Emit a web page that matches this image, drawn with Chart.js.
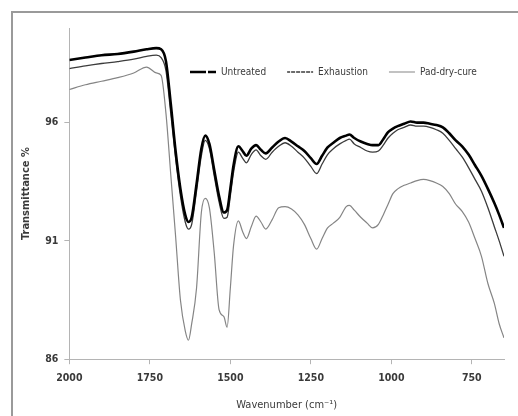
<!DOCTYPE html>
<html>
<head>
<meta charset="utf-8">
<script src="https://cdn.jsdelivr.net/npm/chart.js@4/dist/chart.umd.min.js"></script>
<style>
  html, body { margin: 0; padding: 0; background: #fff; overflow: hidden; }
  #frame {
    position: absolute; left: 11px; top: 11px; width: 600px; height: 500px;
    border: 2px solid #9a9a9a; box-sizing: border-box;
  }
  #wrap { position: absolute; left: 0; top: 0; width: 518px; height: 416px; }
</style>
</head>
<body>
<div id="frame"></div>
<div id="wrap"><canvas id="ftir"></canvas></div>
<script>
// wavenumber (cm-1)
const wavenumbers = [
    2000, 1950, 1900, 1850, 1800, 1760, 1730, 1715, 1700, 1685, 1670, 1655, 1640, 1630,
    1620, 1605, 1590, 1578, 1565, 1550, 1535, 1520, 1510, 1500, 1490, 1475, 1462, 1450,
    1435, 1420, 1405, 1390, 1370, 1350, 1330, 1310, 1290, 1270, 1250, 1232, 1215, 1198,
    1180, 1160, 1140, 1130, 1115, 1095, 1075, 1058, 1040, 1025, 1010, 995, 980, 960,
    940, 920, 900, 880, 860, 840, 820, 800, 780, 760, 740, 720, 700, 680, 665, 650,
];

const untreated = [
    98.65, 98.75, 98.85, 98.9, 99.0, 99.1, 99.15, 99.1, 98.6, 96.8, 94.8, 93.2, 92.1, 91.8,
    92.0, 93.4, 94.9, 95.45, 95.1, 94.0, 92.9, 92.2, 92.3, 93.2, 94.2, 95.0, 94.8, 94.6,
    94.9, 95.05, 94.85, 94.7, 94.95, 95.2, 95.35, 95.2, 95.0, 94.8, 94.5, 94.25, 94.6, 94.95,
    95.15, 95.35, 95.45, 95.5, 95.35, 95.2, 95.1, 95.05, 95.05, 95.3, 95.6, 95.75, 95.85, 95.95,
    96.05, 96.0, 96.0, 95.95, 95.9, 95.8, 95.55, 95.25, 95.0, 94.65, 94.2, 93.75, 93.2, 92.6, 92.1, 91.55,
];

const exhaustion = [
    98.28, 98.4, 98.5, 98.58, 98.68, 98.8, 98.85, 98.75, 98.2, 96.4, 94.5, 92.9, 91.8, 91.5,
    91.7, 93.1, 94.6, 95.25, 94.9, 93.75, 92.65, 91.95, 92.0, 92.9, 93.9, 94.75, 94.5, 94.3,
    94.65, 94.85, 94.6, 94.45, 94.75, 95.0, 95.15, 95.0, 94.75, 94.5, 94.15, 93.85, 94.25, 94.65,
    94.9, 95.1, 95.25, 95.3, 95.1, 94.95, 94.8, 94.75, 94.8, 95.05, 95.35, 95.55, 95.7, 95.8,
    95.9, 95.85, 95.85, 95.8, 95.7, 95.55, 95.25, 94.9, 94.55, 94.1, 93.6, 93.1, 92.4, 91.6, 91.0, 90.35,
];

const padDryCure = [
    97.4, 97.6, 97.75, 97.9, 98.1, 98.35, 98.1, 98.0, 96.4, 93.8, 91.2, 88.5, 87.2, 86.8,
    87.5, 89.0, 92.2, 92.8, 92.4, 90.5, 88.1, 87.8, 87.35, 89.0, 90.8, 91.85, 91.4, 91.1,
    91.6, 92.05, 91.8, 91.5, 91.9, 92.4, 92.45, 92.35, 92.1, 91.7, 91.1, 90.65, 91.1, 91.55,
    91.75, 92.0, 92.45, 92.5, 92.3, 92.0, 91.75, 91.55, 91.7, 92.1, 92.55, 93.0, 93.2, 93.35,
    93.45, 93.55, 93.6, 93.55, 93.45, 93.3, 93.0, 92.55, 92.25, 91.8, 91.1, 90.35, 89.2, 88.36, 87.5, 86.9,
];

const seriesNames = ['Untreated', 'Exhaustion', 'Pad-dry-cure'];
const xTicks = [2000, 1750, 1500, 1250, 1000, 750];
const yTicks = [86, 91, 96];

const FONT = "'Liberation Sans Narrow', 'DejaVu Sans Condensed', sans-serif";
const TEXT = '#3a3a3a';
const AXIS = '#b4b4b4';

// legend sample dashes differ from how the dense Excel traces look in the plot
const legendDash = [[8, 4, 2, 4], [3, 2], []];

function to_points(values) {
    return wavenumbers.map((x, i) => ({ x, y: values[i] }));
}

// Excel puts the legend inside the plot area; move Chart.js's legend there
const legendInside = {
    id: 'legendInside',
    afterLayout(chart) {
        const lg = chart.legend;
        if (!lg) return;
        const pad = lg.options.labels.padding;
        const dx = 190 - (lg.left + pad);
        const dy = 67 - (lg.top + pad);
        lg.left += dx; lg.right += dx;
        lg.top += dy; lg.bottom += dy;
    },
};

new Chart(document.getElementById('ftir'), {
    type: 'line',
    data: {
        datasets: [
            { label: seriesNames[0], data: to_points(untreated), borderColor: '#000', backgroundColor: '#000', borderWidth: 2.6 },
            { label: seriesNames[1], data: to_points(exhaustion), borderColor: '#3c3c3c', backgroundColor: '#3c3c3c', borderWidth: 1.3 },
            { label: seriesNames[2], data: to_points(padDryCure), borderColor: '#858585', backgroundColor: '#858585', borderWidth: 1.2 },
        ],
    },
    options: {
        responsive: true,
        maintainAspectRatio: false,
        animation: false,
        elements: {
            point: { radius: 0 },
            line: { tension: 0, cubicInterpolationMode: 'monotone' },
        },
        layout: { padding: { left: 20, right: 14, top: -13, bottom: 4 } },
        scales: {
            x: {
                type: 'linear',
                reverse: true,
                min: 650,
                max: 2000,
                afterBuildTicks: axis => { axis.ticks = xTicks.map(v => ({ value: v })); },
                grid: { drawOnChartArea: false, color: AXIS, tickLength: 5 },
                border: { color: AXIS },
                ticks: { color: TEXT, font: { family: FONT, size: 10.5, weight: 'bold' }, padding: 8, maxRotation: 0, callback: v => String(v) },
                title: { display: true, text: 'Wavenumber (cm⁻¹)', color: TEXT, font: { family: FONT, size: 11 }, padding: { top: 6, bottom: 0 } },
            },
            y: {
                min: 86,
                max: 100,
                afterBuildTicks: axis => { axis.ticks = yTicks.map(v => ({ value: v })); },
                grid: { drawOnChartArea: false, color: AXIS, tickLength: 5 },
                border: { color: AXIS },
                ticks: { color: TEXT, font: { family: FONT, size: 10.5, weight: 'bold' }, padding: 6 },
                title: { display: true, text: 'Transmittance %', color: TEXT, font: { family: FONT, size: 11, weight: 'bold' }, padding: { top: 0, bottom: 6 } },
            },
        },
        plugins: {
            tooltip: { enabled: false },
            legend: {
                position: 'top',
                align: 'start',
                labels: {
                    boxWidth: 26,
                    boxHeight: 0,
                    padding: 21,
                    color: TEXT,
                    font: { family: FONT, size: 10 },
                    generateLabels: chart => {
                        const items = Chart.defaults.plugins.legend.labels.generateLabels(chart);
                        items.forEach((it, i) => { it.lineDash = legendDash[i]; });
                        return items;
                    },
                },
            },
        },
    },
    plugins: [legendInside],
});
</script>
</body>
</html>
